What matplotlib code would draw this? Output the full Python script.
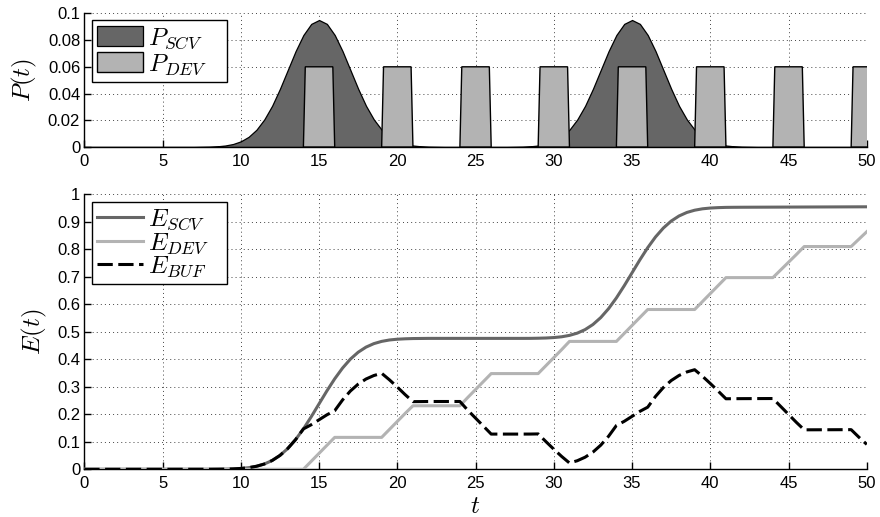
import numpy as np
import matplotlib
matplotlib.use("Agg")
import matplotlib.pyplot as plt

plt.rcParams['font.family'] = ['Liberation Sans', 'DejaVu Sans']
plt.rcParams['mathtext.fontset'] = 'cm'

# ---------------- data ----------------
# P_SCV bump samples (t = 7 .. 23 step 0.5), same shape around t=35
bump1_t = np.arange(7.0, 23.01, 0.5)
bump_vals = [0.0000, 0.0001, 0.0002, 0.0005, 0.0011, 0.0022, 0.0042, 0.0076,
             0.0129, 0.0206, 0.0308, 0.0435, 0.0576, 0.0717, 0.0838, 0.0921,
             0.0950, 0.0921, 0.0838, 0.0717, 0.0576, 0.0435, 0.0308, 0.0206,
             0.0129, 0.0076, 0.0042, 0.0022, 0.0011, 0.0005, 0.0002, 0.0001,
             0.0000]
bump2_t = np.arange(27.0, 43.01, 0.5)

t_P = np.concatenate([[0.0], bump1_t, bump2_t, [50.0]])
P_SCV = np.concatenate([[0.0], bump_vals, bump_vals, [0.0]])

# P_DEV pulses
pulse_start = [14, 19, 24, 29, 34, 39, 44, 49]
pulse_end = [16, 21, 26, 31, 36, 41, 46, 51]
pulse_height = 0.06
pulse_rise = 0.12

# Energy curves, t = 0 and 8 .. 50 step 0.5
t_E = np.concatenate([[0.0], np.arange(8.0, 50.01, 0.5)])
E_SCV = [0.0,
         0.0001, 0.0003, 0.0006, 0.0014, 0.0030, 0.0058, 0.0109, 0.0191, 0.0318, 0.0503,
         0.0755, 0.1079, 0.1468, 0.1910, 0.2380, 0.2850, 0.3290, 0.3680, 0.4005, 0.4257,
         0.4442, 0.4569, 0.4651, 0.4702, 0.4730, 0.4745, 0.4754, 0.4757, 0.4760, 0.4760,
         0.4760, 0.4760, 0.4760, 0.4760, 0.4760, 0.4760, 0.4760, 0.4760, 0.4760, 0.4760,
         0.4760, 0.4761, 0.4766, 0.4774, 0.4790, 0.4818, 0.4869, 0.4951, 0.5079, 0.5264,
         0.5517, 0.5841, 0.6232, 0.6674, 0.7145, 0.7616, 0.8058, 0.8449, 0.8773, 0.9026,
         0.9211, 0.9339, 0.9421, 0.9472, 0.9500, 0.9515, 0.9524, 0.9527, 0.9529, 0.9530,
         0.9531, 0.9532, 0.9533, 0.9534, 0.9535, 0.9536, 0.9537, 0.9538, 0.9539, 0.9540,
         0.9541, 0.9542, 0.9543, 0.9544, 0.9545]
E_DEV = [0.0,
         0.0, 0.0, 0.0, 0.0, 0.0, 0.0, 0.0, 0.0, 0.0, 0.0,
         0.0, 0.0, 0.0, 0.029, 0.058, 0.087, 0.116, 0.116, 0.116, 0.116,
         0.116, 0.116, 0.116, 0.145, 0.174, 0.203, 0.231, 0.231, 0.231, 0.231,
         0.231, 0.231, 0.231, 0.261, 0.290, 0.319, 0.348, 0.348, 0.348, 0.348,
         0.348, 0.348, 0.348, 0.377, 0.406, 0.435, 0.465, 0.465, 0.465, 0.465,
         0.465, 0.465, 0.465, 0.494, 0.523, 0.552, 0.581, 0.581, 0.581, 0.581,
         0.581, 0.581, 0.581, 0.610, 0.639, 0.668, 0.697, 0.697, 0.697, 0.697,
         0.697, 0.697, 0.697, 0.725, 0.753, 0.781, 0.810, 0.810, 0.810, 0.810,
         0.810, 0.810, 0.810, 0.837, 0.864]
E_BUF = [0.0,
         0.0001, 0.0003, 0.0006, 0.0014, 0.0030, 0.0058, 0.0109, 0.0191, 0.0318, 0.0503,
         0.0755, 0.1079, 0.1468, 0.162, 0.180, 0.198, 0.213, 0.252, 0.2845, 0.3097,
         0.3282, 0.3409, 0.3491, 0.3252, 0.2990, 0.2715, 0.2460, 0.2462, 0.2465, 0.2465,
         0.2465, 0.2465, 0.2465, 0.2150, 0.1860, 0.1570, 0.1280, 0.1280, 0.1280, 0.1280,
         0.1280, 0.1281, 0.1286, 0.1004, 0.0730, 0.0468, 0.0229, 0.0311, 0.0439, 0.0624,
         0.0877, 0.1201, 0.1592, 0.1744, 0.1925, 0.2106, 0.2258, 0.2649, 0.2973, 0.3226,
         0.3411, 0.3539, 0.3621, 0.3382, 0.3120, 0.2845, 0.2564, 0.2567, 0.2569, 0.2570,
         0.2571, 0.2572, 0.2573, 0.2284, 0.1995, 0.1706, 0.1435, 0.1436, 0.1437, 0.1438,
         0.1439, 0.1440, 0.1441, 0.1164, 0.0905]

x_ticks = [0, 5, 10, 15, 20, 25, 30, 35, 40, 45, 50]
p_ticks = [0, 0.02, 0.04, 0.06, 0.08, 0.1]
p_ticklabels = ['0', '0.02', '0.04', '0.06', '0.08', '0.1']
e_ticks = [0, 0.1, 0.2, 0.3, 0.4, 0.5, 0.6, 0.7, 0.8, 0.9, 1]
e_ticklabels = ['0', '0.1', '0.2', '0.3', '0.4', '0.5', '0.6', '0.7', '0.8', '0.9', '1']

# ---------------- figure ----------------
fig = plt.figure(figsize=(8.8, 5.17), dpi=100)
ax1 = fig.add_axes([0.0958, 0.7157, 0.8892, 0.2585])
ax2 = fig.add_axes([0.0958, 0.0923, 0.8892, 0.5319])

grid_kw = dict(color='#444444', linestyle=(0, (1, 3.2)), linewidth=0.7)


def style(ax):
    for s in ['top', 'right']:
        ax.spines[s].set_visible(False)
    for s in ['left', 'bottom']:
        ax.spines[s].set_linewidth(1.0)
    ax.tick_params(direction='in', length=5, width=1.0, labelsize=12)
    ax.tick_params(axis='y', pad=3)
    ax.tick_params(axis='x', pad=5)
    ax.grid(True, **grid_kw)
    ax.set_axisbelow(True)
    ax.set_xlim(0, 50)
    ax.set_xticks(x_ticks)


leg_kw = dict(loc='upper left', fontsize=18, frameon=True, fancybox=False,
              framealpha=1, edgecolor='black', borderaxespad=0.0,
              handlelength=1.85, handletextpad=0.2, borderpad=0.22,
              mode='expand')

# top panel
ax1.fill_between(t_P, P_SCV, 0, facecolor='#666666', edgecolor='black',
                 linewidth=0.9, label=r'$P_{SCV}$', zorder=2)
for i, (s, e) in enumerate(zip(pulse_start, pulse_end)):
    ax1.fill([s, s + pulse_rise, e - pulse_rise, e],
             [0, pulse_height, pulse_height, 0],
             facecolor='#b3b3b3', edgecolor='black', linewidth=1.0,
             label=r'$P_{DEV}$' if i == 0 else None, zorder=3)
style(ax1)
ax1.set_ylim(0, 0.1)
ax1.set_yticks(p_ticks)
ax1.set_yticklabels(p_ticklabels)
ax1.set_ylabel(r'$P(t)$', fontsize=18, labelpad=6)
leg1 = ax1.legend(handleheight=0.85, labelspacing=0.02,
                  bbox_to_anchor=(0.0095, 0.95, 0.173, 0.0), **leg_kw)
leg1.get_frame().set_linewidth(1.0)
leg1.set_zorder(10)

# bottom panel
ax2.plot(t_E, E_SCV, color='#666666', linewidth=2.2, label=r'$E_{SCV}$', zorder=3)
ax2.plot(t_E, E_DEV, color='#b3b3b3', linewidth=2.2, label=r'$E_{DEV}$', zorder=3)
ax2.plot(t_E, E_BUF, color='black', linewidth=2.2, dashes=(5.0, 1.8),
         label=r'$E_{BUF}$', zorder=4)
style(ax2)
ax2.set_ylim(0, 1)
ax2.set_yticks(e_ticks)
ax2.set_yticklabels(e_ticklabels)
ax2.set_ylabel(r'$E(t)$', fontsize=18, labelpad=6)
ax2.set_xlabel(r'$t$', fontsize=18, labelpad=2)
leg2 = ax2.legend(labelspacing=-0.08,
                  bbox_to_anchor=(0.0095, 0.973, 0.173, 0.0), **leg_kw)
leg2.get_frame().set_linewidth(1.0)
leg2.set_zorder(10)

fig.savefig('out.png', dpi=100)
